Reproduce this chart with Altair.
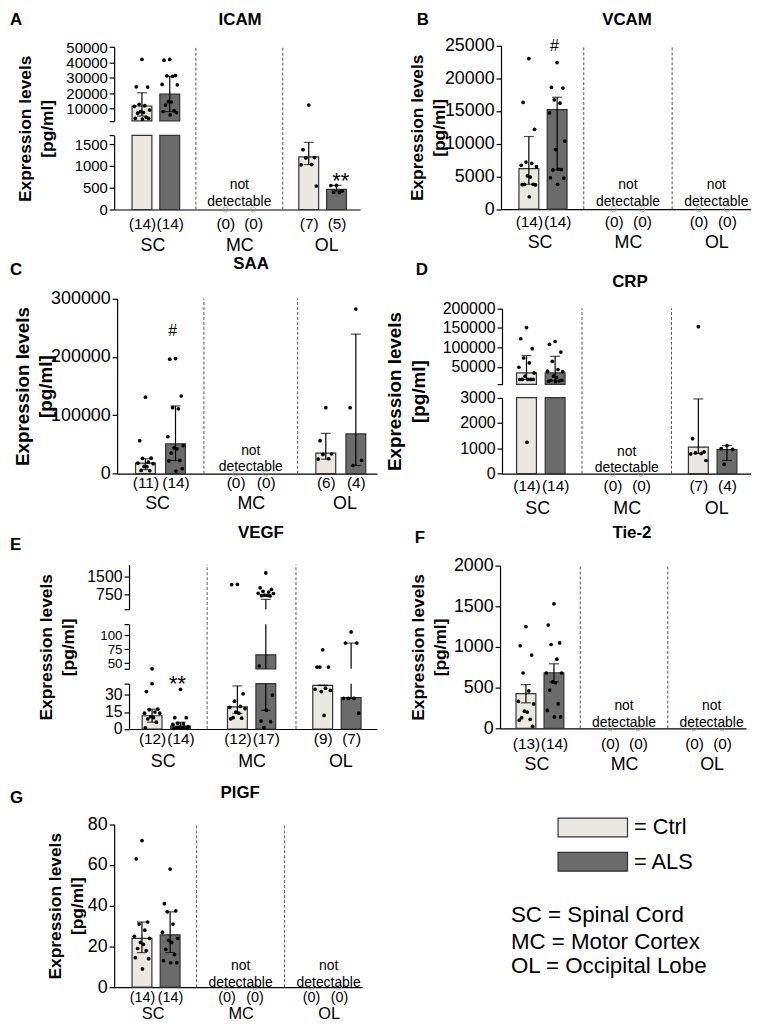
import json
import altair as alt
import pandas as pd

FONT = "Liberation Sans"
W, H, M = 749, 1020, 8
CTRL_FILL, ALS_FILL, EDGE = "#ebe7e1", "#6b6b6b", "#333333"

# ---------------- data (pg/ml) ----------------
ICAM_SC_CTRL = [42000, 24200, 24000, 12800, 11900, 11500, 9100, 8100, 7400, 7000, 4300, 3700, 3650, 3200]
ICAM_SC_ALS = [42000, 41500, 31500, 31300, 31000, 25700, 25500, 14500, 14300, 12300, 8700, 8100, 7400, 5900]
ICAM_MC_CTRL = []
ICAM_MC_ALS = []
ICAM_OL_CTRL = [12300, 1372, 1190, 1183, 1031, 1025, 539]
ICAM_OL_ALS = [553, 550, 425, 390, 387]
ICAM_BAR = [11700, 19400, 0, 0, 1206, 462]
ICAM_LO = [5200, 8000, 0, 0, 1030, 425]
ICAM_HI = [20300, 31000, 0, 0, 1540, 553]

VCAM_SC_CTRL = [23000, 16300, 12200, 7200, 7000, 6700, 6500, 5100, 4900, 3800, 3800, 3750, 3700, 1900]
VCAM_SC_ALS = [22400, 18600, 18500, 16700, 16200, 14700, 10400, 9100, 6100, 6000, 6050, 4800, 4750, 3800]
VCAM_MC_CTRL = []
VCAM_MC_ALS = []
VCAM_OL_CTRL = []
VCAM_OL_ALS = []
VCAM_BAR = [6200, 15200, 0, 0, 0, 0]
VCAM_LO = [3800, 6000, 0, 0, 0, 0]
VCAM_HI = [11100, 17100, 0, 0, 0, 0]

SAA_SC_CTRL = [131000, 56500, 26500, 26000, 19700, 18000, 17000, 12400, 12000, 5600, 5000]
SAA_SC_ALS = [197000, 196000, 133000, 113000, 111000, 63300, 48000, 44000, 42400, 35000, 22600, 22000, 8500, 4400]
SAA_MC_CTRL = []
SAA_MC_ALS = []
SAA_OL_CTRL = [113000, 56500, 34000, 33000, 25500, 25000]
SAA_OL_ALS = [282000, 113000, 22600, 14000]
SAA_BAR = [18000, 51000, 0, 0, 35000, 68000]
SAA_LO = [6800, 22600, 0, 0, 24800, 14000]
SAA_HI = [25500, 116000, 0, 0, 69000, 239000]

CRP_SC_CTRL = [150800, 122100, 96600, 72700, 60000, 49000, 34500, 26100, 17700, 17600, 17800, 17500, 17700, 1240]
CRP_SC_ALS = [115000, 108000, 88000, 64000, 43000, 39000, 38000, 26000, 22000, 15000, 14000, 13000, 15500, 12000]
CRP_MC_CTRL = []
CRP_MC_ALS = []
CRP_OL_CTRL = [153000, 1380, 860, 820, 800, 780, 520]
CRP_OL_ALS = [1110, 990, 960, 370]
CRP_BAR = [34500, 34500, 0, 0, 1050, 950]
CRP_LO = [17700, 15000, 0, 0, 800, 520]
CRP_HI = [78800, 77000, 0, 0, 2950, 1110]

VEGF_SC_CTRL = [40, 33, 17.5, 17, 15, 14, 14, 11, 10, 9, 6, 1]
VEGF_SC_ALS = [35, 10, 10, 5, 4.5, 4, 2, 1.5, 1, 1, 1.5, 0.5, 0.5, 0.8]
VEGF_MC_CTRL = [1170, 1160, 31, 24.5, 20, 19, 18, 15, 14, 10, 9.5, 9]
VEGF_MC_ALS = [1650, 1030, 960, 880, 850, 800, 790, 720, 710, 700, 690, 45, 30, 16.6, 7, 6.5, 1.2]
VEGF_OL_CTRL = [74, 43, 43, 43, 36, 35, 34, 33, 12]
VEGF_OL_ALS = [106, 86, 86, 27, 27, 27, 14]
VEGF_BAR = [11.7, 2.5, 19.6, 65, 38.5, 27.7]
VEGF_LO = [6, 0.5, 13.7, 16.6, 38.5, 27]
VEGF_HI = [17.5, 6, 38, 545, 38.5, 86]

TIE2_SC_CTRL = [1250, 1015, 900, 680, 460, 330, 300, 210, 200, 130, 110, 100, 25]
TIE2_SC_ALS = [1530, 1270, 1050, 1030, 850, 680, 680, 570, 560, 470, 300, 220, 140, 140]
TIE2_MC_CTRL = []
TIE2_MC_ALS = []
TIE2_OL_CTRL = []
TIE2_OL_ALS = []
TIE2_BAR = [427, 683, 0, 0, 0, 0]
TIE2_LO = [313, 569, 0, 0, 0, 0]
TIE2_HI = [537, 793, 0, 0, 0, 0]

PLGF_SC_CTRL = [72, 63, 32, 31, 28, 25, 24, 22, 21, 19, 18, 14.5, 14, 9]
PLGF_SC_ALS = [58, 41, 37.5, 37, 31, 27, 24, 23, 22, 18.6, 16, 13, 12, 12]
PLGF_MC_CTRL = []
PLGF_MC_ALS = []
PLGF_OL_CTRL = []
PLGF_OL_ALS = []
PLGF_BAR = [24, 25.7, 0, 0, 0, 0]
PLGF_LO = [17, 17, 0, 0, 0, 0]
PLGF_HI = [32, 37, 0, 0, 0, 0]

GROUP_NAMES = ["SC", "MC", "OL"]
LEGEND_LINES = ["SC = Spinal Cord", "MC = Motor Cortex", "OL = Occipital Lobe"]

DATA = {
    "ICAM": dict(pts=[ICAM_SC_CTRL, ICAM_SC_ALS, ICAM_MC_CTRL, ICAM_MC_ALS, ICAM_OL_CTRL, ICAM_OL_ALS], bar=ICAM_BAR, lo=ICAM_LO, hi=ICAM_HI),
    "VCAM": dict(pts=[VCAM_SC_CTRL, VCAM_SC_ALS, VCAM_MC_CTRL, VCAM_MC_ALS, VCAM_OL_CTRL, VCAM_OL_ALS], bar=VCAM_BAR, lo=VCAM_LO, hi=VCAM_HI),
    "SAA": dict(pts=[SAA_SC_CTRL, SAA_SC_ALS, SAA_MC_CTRL, SAA_MC_ALS, SAA_OL_CTRL, SAA_OL_ALS], bar=SAA_BAR, lo=SAA_LO, hi=SAA_HI),
    "CRP": dict(pts=[CRP_SC_CTRL, CRP_SC_ALS, CRP_MC_CTRL, CRP_MC_ALS, CRP_OL_CTRL, CRP_OL_ALS], bar=CRP_BAR, lo=CRP_LO, hi=CRP_HI),
    "VEGF": dict(pts=[VEGF_SC_CTRL, VEGF_SC_ALS, VEGF_MC_CTRL, VEGF_MC_ALS, VEGF_OL_CTRL, VEGF_OL_ALS], bar=VEGF_BAR, lo=VEGF_LO, hi=VEGF_HI),
    "Tie-2": dict(pts=[TIE2_SC_CTRL, TIE2_SC_ALS, TIE2_MC_CTRL, TIE2_MC_ALS, TIE2_OL_CTRL, TIE2_OL_ALS], bar=TIE2_BAR, lo=TIE2_LO, hi=TIE2_HI),
    "PlGF": dict(pts=[PLGF_SC_CTRL, PLGF_SC_ALS, PLGF_MC_CTRL, PLGF_MC_ALS, PLGF_OL_CTRL, PLGF_OL_ALS], bar=PLGF_BAR, lo=PLGF_LO, hi=PLGF_HI),
}

# ---------------- layout (page pixels) ----------------
LAYOUT = {
    "ICAM": dict(letter="A", lx=10, ly=16.5, tx=242, ty=16.5, xL=115, xR=363, c0=139, step=29.2,
                 axisY=207, top=43.3, lfs=15, tfs=17.5, tlh=22, gap=58, cpad=6.8, cfs=15.5, gpad=27, gfs=18, ndY=182.5,
                 sig=[(7, "**", 173, 22)],
                 segs=[dict(dom=[2000, 50000], yb=117.7, yt=43.3, ticks=[10000, 20000, 30000, 40000, 50000], breaks=[2000]),
                       dict(dom=[0, 1700], yb=207, yt=132.3, ticks=[0, 500, 1000, 1500], breaks=[1700])]),
    "VCAM": dict(letter="B", lx=420, ly=16.5, tx=632, ty=16.5, xL=505, xR=757, c0=529, step=29.7,
                 axisY=206.7, top=41.7, lfs=18, tfs=17.5, tlh=22, gap=53, cpad=5.1, cfs=15.5, gpad=25, gfs=18, ndY=182.5,
                 sig=[(1, "#", 41.7, 16)],
                 segs=[dict(dom=[0, 25000], yb=206.7, yt=41.7, ticks=[0, 5000, 10000, 15000, 20000, 25000])]),
    "SAA": dict(letter="C", lx=10, ly=268, tx=253, ty=262, xL=118, xR=380, c0=142.5, step=31.5,
                axisY=473.3, top=296.7, lfs=18, tfs=19, tlh=23.5, gap=62, cpad=1.5, cfs=15.5, gpad=21, gfs=18, ndY=450,
                sig=[(1, "#", 328.3, 16)],
                segs=[dict(dom=[0, 300000], yb=473.3, yt=296.7, ticks=[0, 100000, 200000, 300000])]),
    "CRP": dict(letter="D", lx=419, ly=268, tx=635, ty=280, xL=506, xR=757, c0=526.5, step=30.07,
                axisY=473.3, top=306.7, lfs=16, tfs=19, tlh=24, gap=74, cpad=5.2, cfs=15.5, gpad=26, gfs=18, ndY=451,
                sig=[],
                segs=[dict(dom=[5000, 200000], yb=383.3, yt=306.7, ticks=[50000, 100000, 150000, 200000], breaks=[5000]),
                      dict(dom=[0, 3000], yb=473.3, yt=396.7, ticks=[0, 1000, 2000, 3000])]),
    "VEGF": dict(letter="E", lx=10, ly=545, tx=263, ty=533, xL=130, xR=380, c0=149, step=29.86,
                 axisY=730.7, top=565, lfs=16, tfs=17.5, tlh=22, gap=52, cpad=2.8, cfs=15.5, gpad=24, gfs=18, ndY=700,
                 sig=[(1, "**", 680, 22)],
                 segs=[dict(dom=[130, 2000], yb=610, yt=565, ticks=[750, 1500], breaks=[130]),
                       dict(dom=[40, 120], yb=670, yt=625, ticks=[50, 75, 100], breaks=[40, 120], lfs=13.5),
                       dict(dom=[0, 40], yb=730.7, yt=685, ticks=[0, 15, 30], breaks=[40])]),
    "Tie-2": dict(letter="F", lx=418, ly=538, tx=637, ty=533, xL=504, xR=752, c0=526, step=29.43,
                  axisY=730, top=566, lfs=18, tfs=17.5, tlh=22, gap=51, cpad=8.5, cfs=15.5, gpad=28, gfs=18, ndY=708,
                  sig=[],
                  segs=[dict(dom=[0, 2000], yb=730, yt=566, ticks=[0, 500, 1000, 1500, 2000])]),
    "PlGF": dict(letter="G", lx=10, ly=800, tx=242, ty=795, xL=115, xR=365, c0=139, step=29.57,
                 axisY=991, top=826.7, lfs=18, tfs=17.5, tlh=22, gap=28, cpad=3, cfs=14.5, gpad=18.5, gfs=16.5, ndY=970,
                 sig=[],
                 segs=[dict(dom=[0, 80], yb=991, yt=826.7, ticks=[0, 20, 40, 60, 80])]),
}

SLOTS = [0, 1, 3, 4, 6, 7]
GRP = ["Ctrl", "ALS"] * 3
JIT = [0, -6, 6, -3, 3, -8, 8, -1.5, 1.5, -4.5, 4.5, -7, 7, 0.5, -5, 5, -2]

LEGEND = alt.Legend(orient="none", legendX=578.5, legendY=811, direction="vertical", title=None,
                    symbolType="M-3.684,-1L3.684,-1L3.684,1L-3.684,1Z", symbolSize=361,
                    symbolStrokeColor=EDGE, symbolStrokeWidth=1.2, symbolOpacity=1,
                    labelFontSize=22, labelOffset=30.5, labelExpr="'= ' + datum.label",
                    labelColor="black", rowPadding=10.5, padding=0)
COLOR = alt.Color("grp:N", scale=alt.Scale(domain=["Ctrl", "ALS"], range=[CTRL_FILL, ALS_FILL]), legend=LEGEND)


def panel(key):
    L = LAYOUT[key]
    D = DATA[key]
    pts, bar, lo, hi = D["pts"], D["bar"], D["lo"], D["hi"]
    counts = [len(p) for p in pts]
    step = L["step"]
    dlo = (L["xL"] - L["c0"]) / step
    dhi = 7 + (L["xR"] - L["c0"] - 7 * step) / step
    xs = alt.Scale(domain=[dlo, dhi], range=[L["xL"] - M, L["xR"] - M], nice=False, zero=False)
    offy = -(L["xL"] - M)
    offx = (L["axisY"] - M) - H

    bar_df = pd.DataFrame([dict(slot=s, grp=g, v=b, base=0, lo=l, hi=h)
                           for s, g, b, l, h, n in zip(SLOTS, GRP, bar, lo, hi, counts) if n > 0])
    cap_df = pd.DataFrame([dict(slot=r["slot"], v=r[k]) for r in bar_df.to_dict("records") for k in ("lo", "hi")])
    pt_df = pd.DataFrame([dict(xj=s + JIT[i % len(JIT)] / step, v=v)
                          for s, p in zip(SLOTS, pts) for i, v in enumerate(p)])
    zero_df = pd.DataFrame([dict(slot=s, v=0) for s, n in zip(SLOTS, counts) if n == 0])

    lab = [""] * 8
    for s, n in zip(SLOTS, counts):
        lab[s] = "(%d)" % n
    count_expr = json.dumps(lab) + "[datum.value]"

    out = []
    nseg = len(L["segs"])
    for si, sg in enumerate(L["segs"]):
        a, b = sg["dom"]
        last = si == nseg - 1
        ys = alt.Scale(domain=[a, b], range=[sg["yb"] - M, sg["yt"] - M], nice=False, zero=False, clamp=True)
        brk = sg.get("breaks", [])
        if brk:
            lexpr = "(" + " || ".join("datum.value == %s" % v for v in brk) + ") ? '' : datum.label"
        else:
            lexpr = "datum.label"
        yax = alt.Axis(orient="left", offset=offy, values=sg["ticks"] + brk, labelExpr=lexpr, format="d",
                       title=None, grid=False, tickSize=5, tickWidth=1.2, tickColor="black",
                       domainColor="black", domainWidth=1.2, labelPadding=2,
                       labelFontSize=sg.get("lfs", L["lfs"]),
                       labelColor="black", labelOverlap=False, labelFlush=False)
        if last:
            xax = alt.Axis(orient="bottom", offset=offx, values=SLOTS, labelExpr=count_expr, title=None,
                           grid=False, ticks=False, tickSize=0, labelPadding=L["cpad"], labelFontSize=L["cfs"],
                           labelColor="black", domainColor="black", domainWidth=1.2, labelOverlap=False,
                           labelFlush=False, labelAngle=0)
        else:
            xax = None

        def X(f, xax=xax):
            return alt.X(f + ":Q", scale=xs, axis=xax)

        def Y(f, ys=ys, yax=yax):
            return alt.Y(f + ":Q", scale=ys, axis=yax)

        sub = [
            alt.Chart(bar_df).transform_filter("datum.v > %s" % a)
            .mark_bar(size=20, stroke=EDGE, strokeWidth=1.2)
            .encode(x=X("slot"), y=Y("v"), y2="base:Q", color=COLOR),
            alt.Chart(bar_df).transform_filter("datum.hi > %s && datum.lo < %s" % (a, b))
            .mark_rule(color="black", strokeWidth=1.2)
            .encode(x=X("slot"), y=Y("lo"), y2="hi:Q"),
            alt.Chart(cap_df).transform_filter("datum.v >= %s && datum.v <= %s" % (a, b))
            .mark_tick(orient="horizontal", size=10, thickness=1.2, color="black")
            .encode(x=X("slot"), y=Y("v")),
            alt.Chart(pt_df).transform_filter("datum.v >= %s && datum.v <= %s" % (a, b))
            .mark_circle(size=14, color="black", opacity=1)
            .encode(x=X("xj"), y=Y("v")),
        ]
        if last and len(zero_df):
            sub.append(alt.Chart(zero_df).mark_point(shape="circle", filled=False, size=28, color="#9a9a9a", strokeWidth=1)
                       .encode(x=X("slot"), y=Y("v")))
        out.append(alt.layer(*sub))

    # helper layer: separators, y title, group labels, annotations
    hy = alt.Scale(domain=[0, 1], range=[L["axisY"] - M, L["top"] - M], nice=False, zero=False)
    hyax = alt.Axis(orient="left", offset=offy, title=["Expression levels", "[pg/ml]"], titleFontSize=L["tfs"],
                    titleFontWeight="bold", titleLineHeight=L["tlh"], titlePadding=L["gap"], titleColor="black",
                    labels=False, ticks=False, domain=False, grid=False)
    hxax = alt.Axis(orient="bottom", offset=offx, values=[0.5, 3.5, 6.5],
                    labelExpr="['SC','MC','OL'][floor(datum.value / 3)]", title=None, ticks=False, tickSize=0,
                    domain=False, grid=False, labelPadding=L["gpad"], labelFontSize=L["gfs"], labelColor="black",
                    labelFlush=False, labelOverlap=False, labelAngle=0)
    sep_df = pd.DataFrame(dict(slot=[2, 5], y0=[0, 0], y1=[1, 1]))
    helper = [alt.Chart(sep_df).mark_rule(color="#555555", strokeWidth=1, strokeDash=[3, 2])
              .encode(x=alt.X("slot:Q", scale=xs, axis=hxax), y=alt.Y("y0:Q", scale=hy, axis=hyax), y2="y1:Q")]
    nd = [dict(slot=3 * g + 0.5, t="not\ndetectable") for g in range(3) if counts[2 * g] == 0 and counts[2 * g + 1] == 0]
    if nd:
        helper.append(alt.Chart(pd.DataFrame(nd)).mark_text(fontSize=14, lineBreak="\n", lineHeight=17,
                                                            align="center", baseline="middle", color="black")
                      .encode(x=alt.X("slot:Q", scale=xs, axis=hxax), y=alt.value(L["ndY"] - M), text="t:N"))
    for s, t, yc, fs in L["sig"]:
        off = 0.57 * fs if t == "**" else 0.36 * fs
        helper.append(alt.Chart(pd.DataFrame([dict(slot=s, t=t)])).mark_text(fontSize=fs, align="center",
                                                                              baseline="alphabetic", color="black")
                      .encode(x=alt.X("slot:Q", scale=xs, axis=hxax), y=alt.value(yc + off - M), text="t:N"))
    out.append(alt.layer(*helper))
    return out


layers = []
for k in LAYOUT:
    layers.extend(panel(k))

ann_letters = pd.DataFrame([dict(x=L["lx"] - M, y=L["ly"] - M, t=L["letter"]) for L in LAYOUT.values()])
ann_titles = pd.DataFrame([dict(x=L["tx"] - M, y=L["ty"] - M, t=k) for k, L in LAYOUT.items()])
ann_abbr = pd.DataFrame([dict(x=515 - M, y=yy - M, t=t) for t, yy in zip(LEGEND_LINES, [918, 945, 970])])

PX = dict(scale=None, axis=None)
layers.append(alt.Chart(ann_letters).mark_text(fontSize=17, fontWeight="bold", align="left", baseline="middle", color="black")
              .encode(x=alt.X("x:Q", **PX), y=alt.Y("y:Q", **PX), text="t:N"))
layers.append(alt.Chart(ann_titles).mark_text(fontSize=17, fontWeight="bold", align="center", baseline="middle", color="black")
              .encode(x=alt.X("x:Q", **PX), y=alt.Y("y:Q", **PX), text="t:N"))
layers.append(alt.Chart(ann_abbr).mark_text(fontSize=22.5, align="left", baseline="middle", color="black")
              .encode(x=alt.X("x:Q", **PX), y=alt.Y("y:Q", **PX), text="t:N"))

chart = (alt.layer(*layers)
         .resolve_scale(x="independent", y="independent")
         .properties(width=W, height=H, padding=0, autosize=alt.AutoSizeParams(type="none"))
         .configure(font=FONT)
         .configure_view(strokeWidth=0))

chart.save("out.html", embed_options={"renderer": "svg", "actions": False})
